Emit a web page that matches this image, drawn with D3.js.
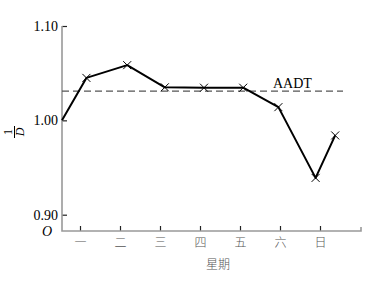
<!DOCTYPE html>
<html>
<head>
<meta charset="utf-8">
<script src="https://cdn.jsdelivr.net/npm/d3@7"></script>
<style>
body { margin: 0; background: #fff; }
svg { display: block; }
.tick text { font-family: "Liberation Serif", "DejaVu Serif", serif; font-size: 14px; fill: #000; }
.x.axis .tick text { font-family: "Noto Sans CJK SC", sans-serif; font-size: 12px; font-weight: 300; fill: #555; }
</style>
</head>
<body>
<div id="chart"></div>
<script>
// 星期 (day of week), 1..7 along x
var days = ["一", "二", "三", "四", "五", "六", "日"];
var dayTicks = [1, 2, 3, 4, 5, 6, 7];

// position along the day axis and 1/D value
var pointPos = [0.55, 1.16, 2.18, 3.12, 4.1, 5.08, 5.96, 6.89, 7.38];
var pointVal = [1.000, 1.045, 1.0585, 1.035, 1.0346, 1.0346, 1.014, 0.939, 0.984];
var markerIdx = [1, 2, 3, 4, 5, 6, 7, 8]; // first point has no cross

var aadt = 1.031;
var yTicks = [0.90, 1.00, 1.10];

var W = 370, H = 286;

var svg = d3.select('#chart')
  .append('svg')
  .attr('width', W)
  .attr('height', H);

var x = d3.scaleLinear()
  .domain([0, 8])
  .range([40, 360]);

var y = d3.scaleLinear()
  .domain([0.90, 1.10])
  .range([214.7, 26]);

var x0 = 62, y0 = 231, xEnd = 361;

// x axis (custom, the y axis is broken below 0.90)
var xAxis = d3.axisBottom(x)
  .tickValues(dayTicks)
  .tickFormat(function(d, i){ return days[i]; })
  .tickSizeInner(-5)
  .tickSizeOuter(0)
  .tickPadding(7);

var gx = svg.append('g')
  .attr('class', 'x axis')
  .attr('transform', 'translate(0,' + y0 + ')')
  .call(xAxis);
gx.select('.domain').remove();
gx.selectAll('.tick line').attr('stroke', '#222').attr('stroke-width', 1.2);

var yAxis = d3.axisLeft(y)
  .tickValues(yTicks)
  .tickFormat(d3.format('.2f'))
  .tickSizeInner(-5)
  .tickSizeOuter(0)
  .tickPadding(4);

var gy = svg.append('g')
  .attr('class', 'y axis')
  .attr('transform', 'translate(' + x0 + ',0)')
  .call(yAxis);
gy.select('.domain').remove();
gy.selectAll('.tick line').attr('stroke', '#222').attr('stroke-width', 1.2);

// axis lines in grey
svg.append('path')
  .attr('d', 'M' + x0 + ',' + y(1.10) + 'V' + y0 + 'H' + xEnd + 'V' + (y0 - 4))
  .attr('fill', 'none')
  .attr('stroke', '#999')
  .attr('stroke-width', 1.6);

// origin label
svg.append('text')
  .attr('x', 52)
  .attr('y', y0 + 5)
  .attr('text-anchor', 'end')
  .style('font-family', '"Liberation Serif", serif')
  .style('font-style', 'italic')
  .style('font-size', '14px')
  .text('O');

// AADT dashed line
svg.append('line')
  .attr('x1', x0)
  .attr('x2', 343)
  .attr('y1', y(aadt))
  .attr('y2', y(aadt))
  .attr('stroke', '#555')
  .attr('stroke-width', 1.2)
  .attr('stroke-dasharray', '7,4');

svg.append('text')
  .attr('x', 273)
  .attr('y', y(aadt) - 3)
  .style('font-family', '"Liberation Serif", serif')
  .style('font-size', '14px')
  .style('paint-order', 'stroke')
  .style('stroke', '#fff')
  .style('stroke-width', 3)
  .text('AADT');

// data line
var line = d3.line()
  .x(function(d, i){ return x(pointPos[i]); })
  .y(function(d){ return y(d); });

svg.append('path')
  .datum(pointVal)
  .attr('d', line)
  .attr('fill', 'none')
  .attr('stroke', '#000')
  .attr('stroke-width', 2)
  .attr('stroke-linejoin', 'round');

var r = 4;
svg.selectAll('.mark')
  .data(markerIdx)
  .enter().append('path')
  .attr('class', 'mark')
  .attr('d', function(i){
    var cx = x(pointPos[i]), cy = y(pointVal[i]);
    return 'M' + (cx - r) + ',' + (cy - r) + 'L' + (cx + r) + ',' + (cy + r) +
           'M' + (cx - r) + ',' + (cy + r) + 'L' + (cx + r) + ',' + (cy - r);
  })
  .attr('stroke', '#000')
  .attr('stroke-width', 1);

// x label
svg.append('text')
  .attr('x', 218)
  .attr('y', 269)
  .attr('text-anchor', 'middle')
  .style('font-family', '"Noto Sans CJK SC", sans-serif')
  .style('font-size', '12px')
  .style('font-weight', 300)
  .style('fill', '#555')
  .text('星期');

// y label: 1/D fraction, rotated
var yl = svg.append('g')
  .attr('transform', 'translate(16,132) rotate(-90)');
yl.append('text')
  .attr('x', 0)
  .attr('y', -4)
  .attr('text-anchor', 'middle')
  .style('font-family', '"Liberation Serif", serif')
  .style('font-size', '12px')
  .text('1');
yl.append('line')
  .attr('x1', -6)
  .attr('x2', 6)
  .attr('y1', -1.5)
  .attr('y2', -1.5)
  .attr('stroke', '#000')
  .attr('stroke-width', 1);
yl.append('text')
  .attr('x', 0)
  .attr('y', 8)
  .attr('text-anchor', 'middle')
  .style('font-family', '"Liberation Serif", serif')
  .style('font-style', 'italic')
  .style('font-size', '12px')
  .text('D');
</script>
</body>
</html>
